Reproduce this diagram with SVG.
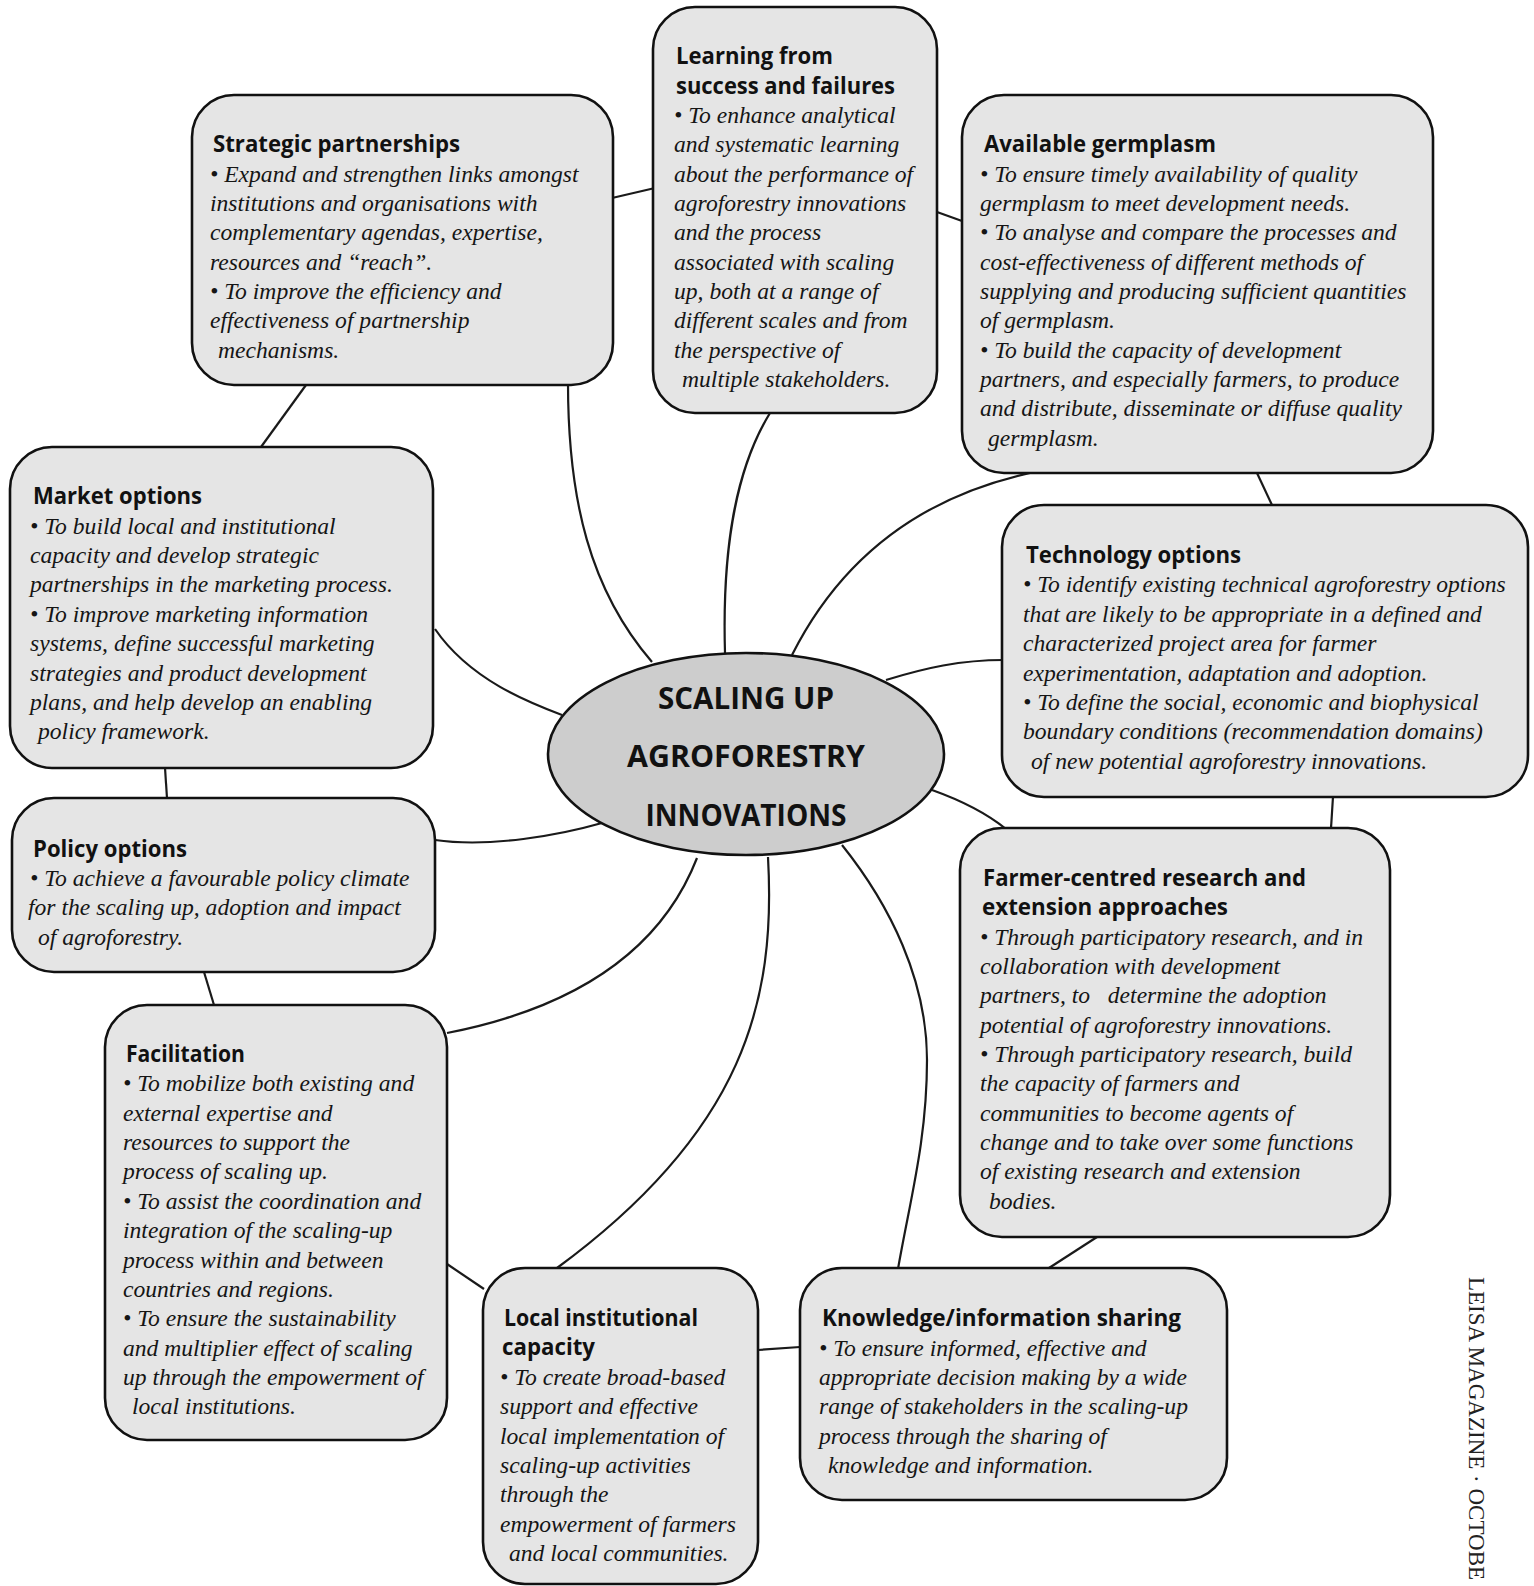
<svg xmlns="http://www.w3.org/2000/svg" width="1534" height="1586" viewBox="0 0 1534 1586">
<style>
.box{fill:#e5e5e5;stroke:#111;stroke-width:2.6}
.hub{fill:#cdcdcd;stroke:#111;stroke-width:2.6}
.t{font-family:'Open Sans',Lato,sans-serif;font-weight:700;font-size:23px;fill:#111}
.b{font-family:'Liberation Serif','Times New Roman',serif;font-style:italic;font-size:23.6px;fill:#151515;transform:translate(0px,1.6px)}
.c{font-family:'Open Sans',Lato,sans-serif;font-weight:700;font-size:30px;fill:#111;text-anchor:middle}
.m{font-family:'Liberation Serif','Times New Roman',serif;font-size:23px;fill:#222}
.conn path{fill:none;stroke:#1a1a1a;stroke-width:2.2}
</style>
<rect width="1534" height="1586" fill="#fff"/>
<g id="connectors" class="conn">
<path d="M568 383 C568 500 590 590 652 662"/>
<path d="M770 413 C735 470 722 550 725 653"/>
<path d="M1030 473 C930 495 845 550 792 655"/>
<path d="M886 680 C925 668 960 660 1004 660"/>
<path d="M932 790 C960 800 985 812 1006 829"/>
<path d="M842 845 C890 905 927 980 927 1060 C927 1140 910 1200 898 1269"/>
<path d="M768 857 C776 1000 745 1130 557 1268"/>
<path d="M697 858 C665 940 590 1005 447 1033"/>
<path d="M602 823 C560 835 490 848 435 840"/>
<path d="M562 715 C530 703 470 680 435 629"/>
<path d="M612 198 L655 188"/>
<path d="M937 212 L962 221"/>
<path d="M1257 473 L1272 505"/>
<path d="M1333 797 L1331 828"/>
<path d="M1097 1237 L1049 1268"/>
<path d="M800 1347 L758 1350"/>
<path d="M447 1264 L484 1289"/>
<path d="M214 1005 L204 972"/>
<path d="M167 798 L165 768"/>
<path d="M261 447 L306 385"/>
</g>
<g id="hub">
<ellipse class="hub" cx="746" cy="754" rx="198" ry="101"/>
<text class="c" x="746" y="709" textLength="176" lengthAdjust="spacingAndGlyphs">SCALING UP</text>
<text class="c" x="746" y="767" textLength="238" lengthAdjust="spacingAndGlyphs">AGROFORESTRY</text>
<text class="c" x="746" y="826" textLength="201" lengthAdjust="spacingAndGlyphs">INNOVATIONS</text>
</g>
<g id="strategic">
<rect class="box" x="192" y="95" width="421" height="290" rx="42"/>
<text class="t" x="213" y="152" textLength="247" lengthAdjust="spacingAndGlyphs">Strategic partnerships</text>
<text class="b"><tspan x="210" y="180">• Expand and strengthen links amongst</tspan><tspan x="210" y="209.35">institutions and organisations with</tspan><tspan x="210" y="238.7">complementary agendas, expertise,</tspan><tspan x="210" y="268.05">resources and “reach”.</tspan><tspan x="210" y="297.4">• To improve the efficiency and</tspan><tspan x="210" y="326.75">effectiveness of partnership</tspan><tspan x="218" y="356.1">mechanisms.</tspan></text>
</g>
<g id="learning">
<rect class="box" x="653" y="7" width="284" height="406" rx="42"/>
<text class="t"><tspan x="676" y="64" textLength="157" lengthAdjust="spacingAndGlyphs">Learning from</tspan><tspan x="676" y="93.5" textLength="219" lengthAdjust="spacingAndGlyphs">success and failures</tspan></text>
<text class="b"><tspan x="674" y="121.3">• To enhance analytical</tspan><tspan x="674" y="150.65">and systematic learning</tspan><tspan x="674" y="180">about the performance of</tspan><tspan x="674" y="209.35">agroforestry innovations</tspan><tspan x="674" y="238.7">and the process</tspan><tspan x="674" y="268.05">associated with scaling</tspan><tspan x="674" y="297.4">up, both at a range of</tspan><tspan x="674" y="326.75">different scales and from</tspan><tspan x="674" y="356.1">the perspective of</tspan><tspan x="682" y="385.45">multiple stakeholders.</tspan></text>
</g>
<g id="germplasm">
<rect class="box" x="962" y="95" width="471" height="378" rx="42"/>
<text class="t" x="984" y="152" textLength="232" lengthAdjust="spacingAndGlyphs">Available germplasm</text>
<text class="b"><tspan x="980" y="180">• To ensure timely availability of quality</tspan><tspan x="980" y="209.35">germplasm to meet development needs.</tspan><tspan x="980" y="238.7">• To analyse and compare the processes and</tspan><tspan x="980" y="268.05">cost-effectiveness of different methods of</tspan><tspan x="980" y="297.4">supplying and producing sufficient quantities</tspan><tspan x="980" y="326.75">of germplasm.</tspan><tspan x="980" y="356.1">• To build the capacity of development</tspan><tspan x="980" y="385.45">partners, and especially farmers, to produce</tspan><tspan x="980" y="414.8">and distribute, disseminate or diffuse quality</tspan><tspan x="988" y="444.15">germplasm.</tspan></text>
</g>
<g id="market">
<rect class="box" x="10" y="447" width="423" height="321" rx="42"/>
<text class="t" x="33" y="504.3" textLength="169" lengthAdjust="spacingAndGlyphs">Market options</text>
<text class="b"><tspan x="30" y="532.2">• To build local and institutional</tspan><tspan x="30" y="561.55">capacity and develop strategic</tspan><tspan x="30" y="590.9">partnerships in the marketing process.</tspan><tspan x="30" y="620.25">• To improve marketing information</tspan><tspan x="30" y="649.6">systems, define successful marketing</tspan><tspan x="30" y="678.95">strategies and product development</tspan><tspan x="30" y="708.3">plans, and help develop an enabling</tspan><tspan x="38" y="737.65">policy framework.</tspan></text>
</g>
<g id="technology">
<rect class="box" x="1002" y="505" width="526" height="292" rx="42"/>
<text class="t" x="1026" y="563" textLength="215" lengthAdjust="spacingAndGlyphs">Technology options</text>
<text class="b"><tspan x="1023" y="590.9">• To identify existing technical agroforestry options</tspan><tspan x="1023" y="620.25">that are likely to be appropriate in a defined and</tspan><tspan x="1023" y="649.6">characterized project area for farmer</tspan><tspan x="1023" y="678.95">experimentation, adaptation and adoption.</tspan><tspan x="1023" y="708.3">• To define the social, economic and biophysical</tspan><tspan x="1023" y="737.65">boundary conditions (recommendation domains)</tspan><tspan x="1031" y="767">of new potential agroforestry innovations.</tspan></text>
</g>
<g id="policy">
<rect class="box" x="12" y="798" width="423" height="174" rx="42"/>
<text class="t" x="33" y="856.5" textLength="154" lengthAdjust="spacingAndGlyphs">Policy options</text>
<text class="b"><tspan x="30" y="884.4">• To achieve a favourable policy climate</tspan><tspan x="28" y="913.75">for the scaling up, adoption and impact</tspan><tspan x="38" y="943.1">of agroforestry.</tspan></text>
</g>
<g id="farmer">
<rect class="box" x="960" y="828" width="430" height="409" rx="42"/>
<text class="t"><tspan x="983" y="885.9" textLength="323" lengthAdjust="spacingAndGlyphs">Farmer-centred research and</tspan><tspan x="982" y="915.2" textLength="246" lengthAdjust="spacingAndGlyphs">extension approaches</tspan></text>
<text class="b"><tspan x="980" y="943.1">• Through participatory research, and in</tspan><tspan x="980" y="972.45">collaboration with development</tspan></text>
<text class="b" xml:space="preserve" x="980" y="1001.8">partners, to   determine the adoption</text>
<text class="b"><tspan x="980" y="1031.15">potential of agroforestry innovations.</tspan><tspan x="980" y="1060.5">• Through participatory research, build</tspan><tspan x="980" y="1089.85">the capacity of farmers and</tspan><tspan x="980" y="1119.2">communities to become agents of</tspan><tspan x="980" y="1148.55">change and to take over some functions</tspan><tspan x="980" y="1177.9">of existing research and extension</tspan><tspan x="989" y="1207.25">bodies.</tspan></text>
</g>
<g id="facilitation">
<rect class="box" x="105" y="1005" width="342" height="435" rx="42"/>
<text class="t" x="126" y="1062" textLength="119" lengthAdjust="spacingAndGlyphs">Facilitation</text>
<text class="b"><tspan x="123" y="1089.85">• To mobilize both existing and</tspan><tspan x="123" y="1119.2">external expertise and</tspan><tspan x="123" y="1148.55">resources to support the</tspan><tspan x="123" y="1177.9">process of scaling up.</tspan><tspan x="123" y="1207.25">• To assist the coordination and</tspan><tspan x="123" y="1236.6">integration of the scaling-up</tspan><tspan x="123" y="1265.95">process within and between</tspan><tspan x="123" y="1295.3">countries and regions.</tspan><tspan x="123" y="1324.65">• To ensure the sustainability</tspan><tspan x="123" y="1354">and multiplier effect of scaling</tspan><tspan x="123" y="1383.35">up through the empowerment of</tspan><tspan x="132" y="1412.7">local institutions.</tspan></text>
</g>
<g id="local">
<rect class="box" x="483" y="1268" width="275" height="316" rx="42"/>
<text class="t"><tspan x="504" y="1326" textLength="194" lengthAdjust="spacingAndGlyphs">Local institutional</tspan><tspan x="502" y="1355.3" textLength="93" lengthAdjust="spacingAndGlyphs">capacity</tspan></text>
<text class="b"><tspan x="500" y="1383.35">• To create broad-based</tspan><tspan x="500" y="1412.7">support and effective</tspan><tspan x="500" y="1442.05">local implementation of</tspan><tspan x="500" y="1471.4">scaling-up activities</tspan><tspan x="500" y="1500.75">through the</tspan><tspan x="500" y="1530.1">empowerment of farmers</tspan><tspan x="509" y="1559.45">and local communities.</tspan></text>
</g>
<g id="knowledge">
<rect class="box" x="800" y="1268" width="427" height="232" rx="42"/>
<text class="t" x="822" y="1326" textLength="359" lengthAdjust="spacingAndGlyphs">Knowledge/information sharing</text>
<text class="b"><tspan x="819" y="1354">• To ensure informed, effective and</tspan><tspan x="819" y="1383.35">appropriate decision making by a wide</tspan><tspan x="819" y="1412.7">range of stakeholders in the scaling-up</tspan><tspan x="819" y="1442.05">process through the sharing of</tspan><tspan x="828" y="1471.4">knowledge and information.</tspan></text>
</g>
<text class="m" transform="translate(1469 1277) rotate(90)">LEISA MAGAZINE · OCTOBE</text>
</svg>
